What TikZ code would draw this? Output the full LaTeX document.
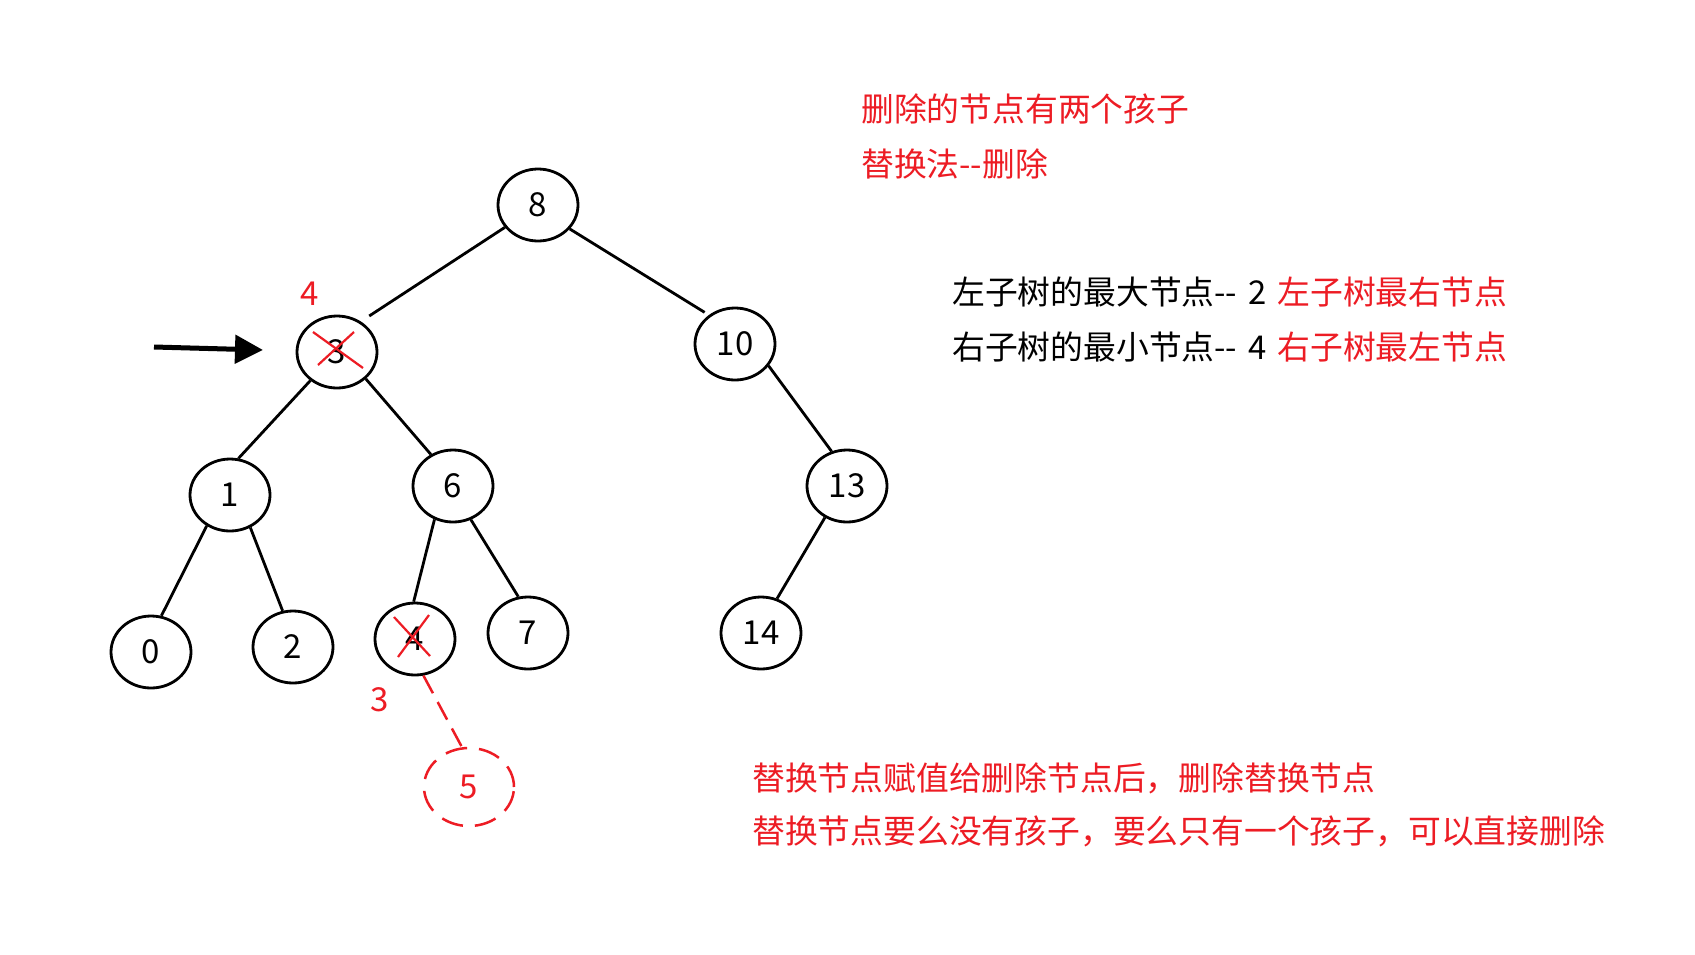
\documentclass[tikz,border=0pt]{standalone}
\usepackage{fontspec}
\setmainfont{Noto Sans CJK SC}
\usetikzlibrary{shapes.geometric,arrows.meta}
\definecolor{mred}{RGB}{237,28,36}
\begin{document}
\begin{tikzpicture}[x=1pt,y=-1pt,
  tnode/.style={draw, ellipse, line width=2.8pt, minimum width=80pt, minimum height=72pt, inner sep=0pt, font=\fontsize{33}{40}\selectfont},
  rnode/.style={draw=mred, text=mred, ellipse, line width=2.5pt, dash pattern=on 22pt off 12pt, minimum width=90pt, minimum height=78pt, inner sep=0pt, font=\fontsize{33}{40}\selectfont},
  edge/.style={line width=2.8pt},
  redge/.style={mred, line width=2.5pt, dash pattern=on 20pt off 10pt},
  txt/.style={anchor=west, inner sep=0pt, font=\fontsize{32.8}{40}\selectfont},
  lbl/.style={inner sep=0pt, text=mred, font=\fontsize{33}{40}\selectfont},
  cross/.style={mred, line width=2.2pt}]
\useasboundingbox[fill=white] (0,0) rectangle (1695,954);

% tree nodes
\node[tnode] (n8)  at (538,205) {8};
\node[tnode] (n3)  at (337,352) {3};
\node[tnode] (n10) at (735,344) {10};
\node[tnode] (n1)  at (230,495) {1};
\node[tnode] (n6)  at (453,486) {6};
\node[tnode] (n13) at (847,486) {13};
\node[tnode] (n0)  at (151,652) {0};
\node[tnode] (n2)  at (293,647) {2};
\node[tnode] (n4)  at (415,639) {4};
\node[tnode] (n7)  at (528,633) {7};
\node[tnode] (n14) at (761,633) {14};
\node[rnode] (n5)  at (469,787) {5};

% edges
\draw[edge, shorten >=10pt] (n8.214) -- (n3.52);
\draw[edge, shorten >=5pt] (n8.323) -- (n10.132);
\draw[edge] (n3.227) -- (n1.77);
\draw[edge] (n3.317) -- (n6.125);
\draw[edge] (n1.233) -- (n0.74);
\draw[edge] (n1.302) -- (n2.106);
\draw[edge] (n6.241) -- (n4.92);
\draw[edge] (n6.298) -- (n7.105);
\draw[edge] (n10.327) -- (n13.114);
\draw[edge] (n13.235) -- (n14.65);
\draw[redge] (n4.283) -- (n5.100);

% crosses
\draw[cross] (313,332) -- (363,368);
\draw[cross] (354,332) -- (318,365);
\draw[cross] (394,617) -- (430,656);
\draw[cross] (429,615) -- (398,657);

% red labels
\node[lbl] (l4) at (310,294) {4};
\node[lbl] (l3) at (380,700) {3};

% arrow
\coordinate (a1) at (154,347);
\coordinate (a2) at (263,350);
\draw[line width=5pt, -{Triangle[length=28pt,width=28pt]}] (a1) -- (a2);

% texts
\node[txt, text=mred] (t1) at (861,109) {删除的节点有两个孩子};
\node[txt, text=mred] (t2) at (861,164) {替换法-{}-删除};
\node[txt] (t3) at (952,292) {左子树的最大节点-{}-\hspace{11pt}2\hspace{11pt}\textcolor{mred}{左子树最右节点}};
\node[txt] (t4) at (952,347) {右子树的最小节点-{}-\hspace{11pt}4\hspace{11pt}\textcolor{mred}{右子树最左节点}};
\node[txt, text=mred] (t5) at (752,778) {替换节点赋值给删除节点后，删除替换节点};
\node[txt, text=mred] (t6) at (752,831) {替换节点要么没有孩子，要么只有一个孩子，可以直接删除};
\end{tikzpicture}
\end{document}
